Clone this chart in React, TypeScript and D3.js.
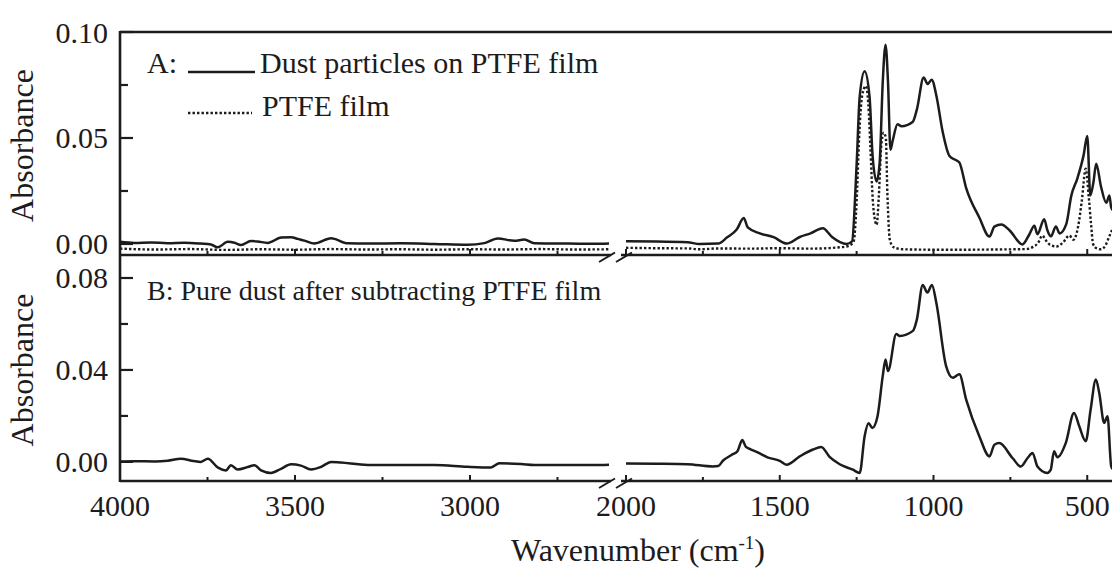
import React from "react";
import * as d3 from "d3";

const W = 1112;
const H = 568;

// Wavenumber ticks (cm-1) on the two sides of the axis break
const majorTicksHigh = [4000, 3500, 3000];
const minorTicksHigh = [3750, 3250, 2750];
const majorTicksLow = [2000, 1500, 1000, 500];
const minorTicksLow = [1750, 1250, 750];

// Absorbance ticks for panel A and panel B
const yMajorA = [0.0, 0.05, 0.1];
const yMinorA = [0.025, 0.075];
const yMajorB = [0.0, 0.04, 0.08];
const yMinorB = [0.02, 0.06];

// A: dust particles collected on the PTFE film  [wavenumber, absorbance]
const dustOnFilm: [number, number][] = [
  [4000, 0.001], [3959, 0.0005], [3911, 0.0007], [3864, 0.0004], [3816, 0.0006], [3769, 0.0002],
  [3740, -0.0002], [3721, -0.0016], [3692, 0.001], [3673, 0.0006], [3654, -0.0005], [3626, 0.0014],
  [3607, 0.0012], [3578, 0.0005], [3540, 0.003], [3511, 0.0032], [3492, 0.0024], [3473, 0.0016],
  [3445, 0.0002], [3397, 0.0027], [3349, 0.0003], [3292, 0.0002], [3197, 0.0003], [3102, 0.0],
  [3007, -0.0004], [2959, 0.0004], [2921, 0.0026], [2873, 0.0015], [2845, 0.0021], [2816, 0.0004],
  [2721, 0.0002], [2626, 0.0001], [2600, 0.0002],
  [2000, 0.0013], [1900, 0.0012], [1800, 0.0008], [1760, 0.0], [1700, 0.0002], [1672, 0.003],
  [1640, 0.0068], [1617, 0.0122], [1604, 0.0078], [1565, 0.005], [1520, 0.0032], [1477, 0.0002],
  [1435, 0.0033], [1400, 0.005], [1360, 0.0074], [1330, 0.0033], [1283, 0.0], [1265, 0.0012],
  [1250, 0.0375], [1240, 0.0695], [1224, 0.0815], [1208, 0.0695], [1198, 0.0415], [1185, 0.0295],
  [1175, 0.0385], [1165, 0.0765], [1156, 0.094], [1148, 0.0765], [1140, 0.0445], [1133, 0.0485],
  [1117, 0.0565], [1104, 0.0555], [1068, 0.0575], [1054, 0.0635], [1032, 0.0785], [1019, 0.0755],
  [1006, 0.0775], [990, 0.0695], [971, 0.0535], [948, 0.0415], [926, 0.0395], [916, 0.0385],
  [894, 0.0265], [851, 0.0125], [818, 0.0035], [802, 0.0082], [779, 0.0092], [753, 0.0065],
  [711, -0.0002], [688, 0.0046], [672, 0.0086], [662, 0.0046], [640, 0.0117], [630, 0.0066],
  [618, 0.0036], [602, 0.0083], [590, 0.005], [568, 0.0095], [552, 0.0227], [532, 0.031],
  [512, 0.0418], [500, 0.0509], [490, 0.0229], [480, 0.029], [471, 0.0378], [455, 0.0269],
  [438, 0.0194], [428, 0.0229], [422, 0.0172], [410, 0.015],
];

// A: blank PTFE film
const ptfeFilm: [number, number][] = [
  [4000, -0.0022], [3900, -0.0026], [3800, -0.0024], [3700, -0.0028], [3600, -0.0025], [3500, -0.0027],
  [3400, -0.0024], [3300, -0.0026], [3200, -0.0025], [3100, -0.0027], [3000, -0.0025], [2900, -0.0026],
  [2800, -0.0024], [2700, -0.0026], [2600, -0.0025],
  [2000, -0.0018], [1900, -0.002], [1800, -0.0021], [1760, -0.0025], [1700, -0.0021], [1600, -0.0022],
  [1500, -0.002], [1400, -0.0022], [1300, -0.0015], [1275, -0.0008], [1260, 0.001], [1250, 0.02],
  [1242, 0.05], [1232, 0.07], [1220, 0.0745], [1212, 0.066], [1205, 0.045], [1198, 0.022],
  [1190, 0.011], [1185, 0.009], [1178, 0.022], [1170, 0.046], [1162, 0.0525], [1155, 0.05],
  [1150, 0.024], [1142, 0.002], [1130, -0.0015], [1100, -0.0025], [1000, -0.0027], [900, -0.0027],
  [800, -0.0026], [700, -0.0024], [678, -0.0015], [660, 0.0005], [646, 0.004], [636, 0.002],
  [620, -0.0005], [600, -0.0012], [580, 0.0005], [558, 0.004], [545, 0.002], [530, 0.008],
  [518, 0.02], [505, 0.0355], [495, 0.022], [488, 0.01], [481, 0.0], [470, -0.002],
  [455, -0.0025], [440, -0.0005], [430, 0.003], [415, 0.008],
];

// B: pure dust after subtracting the PTFE film
const pureDust: [number, number][] = [
  [4000, 0.0002], [3959, 0.0003], [3900, 0.0002], [3864, 0.0005], [3826, 0.0014], [3790, 0.0004],
  [3769, 0.0], [3749, 0.0014], [3720, -0.0025], [3697, -0.0037], [3683, -0.0014], [3664, -0.0033],
  [3635, -0.0022], [3616, -0.0014], [3597, -0.0037], [3569, -0.0048], [3540, -0.003], [3511, -0.001],
  [3483, -0.0016], [3454, -0.0033], [3426, -0.0022], [3397, 0.0], [3369, -0.0003], [3292, -0.0013],
  [3197, -0.0013], [3102, -0.0013], [3007, -0.0021], [2940, -0.0024], [2916, -0.0006], [2854, -0.0009],
  [2816, -0.0013], [2700, -0.0013], [2626, -0.0013], [2600, -0.0012],
  [2000, -0.0007], [1900, -0.0008], [1800, -0.001], [1718, -0.002], [1700, -0.0018], [1685, 0.0005],
  [1657, 0.003], [1637, 0.0048], [1622, 0.0095], [1610, 0.0065], [1600, 0.0058], [1570, 0.004],
  [1540, 0.002], [1500, 0.0005], [1478, -0.0012], [1435, 0.0024], [1392, 0.0054], [1365, 0.0065],
  [1338, 0.0022], [1305, -0.001], [1262, -0.0034], [1240, -0.0048], [1224, 0.0112], [1211, 0.0168],
  [1199, 0.0148], [1182, 0.0199], [1165, 0.0374], [1156, 0.0446], [1148, 0.0395], [1121, 0.0556],
  [1110, 0.0548], [1067, 0.057], [1054, 0.062], [1035, 0.077], [1020, 0.0737], [1005, 0.077],
  [991, 0.0693], [959, 0.0417], [937, 0.0366], [916, 0.0381], [894, 0.0272], [851, 0.0112],
  [818, 0.0024], [802, 0.0075], [786, 0.0082], [743, 0.0017], [716, -0.002], [694, 0.0017],
  [678, 0.0039], [662, -0.002], [630, -0.0048], [619, -0.0035], [608, 0.0046], [597, 0.002],
  [570, 0.0082], [543, 0.0213], [526, 0.0155], [505, 0.009], [489, 0.0228], [472, 0.0359],
  [461, 0.03], [445, 0.017], [434, 0.0199], [422, -0.002], [410, -0.004],
];

const FONT = "'Liberation Serif', 'Times New Roman', Times, serif";
const INK = "#1c1c1c";
const DOTS = "2.4 2.1";

// frame geometry
const LEFT = 120;
const TOP_A = 32;
const MID = 255;
const BOT_B = 481;
const BREAK_L = 611;
const BREAK_R = 621;

// two linear segments of the broken wavenumber axis
const xHigh = d3.scaleLinear().domain([4000, 2600]).range([LEFT, 610]);
const xLow = d3.scaleLinear().domain([2000, 400]).range([626, 1118]);
const yA = d3.scaleLinear().domain([-0.0052, 0.1]).range([MID, TOP_A]);
const yB = d3.scaleLinear().domain([-0.0083, 0.09]).range([BOT_B, MID]);

function segmentPaths(data: [number, number][], y: d3.ScaleLinear<number, number>) {
  const hi = data.filter((d) => d[0] >= 2600);
  const lo = data.filter((d) => d[0] <= 2000);
  const lineHi = d3
    .line<[number, number]>()
    .x((d) => xHigh(d[0]))
    .y((d) => y(d[1]))
    .curve(d3.curveMonotoneX);
  const lineLo = d3
    .line<[number, number]>()
    .x((d) => xLow(d[0]))
    .y((d) => y(d[1]))
    .curve(d3.curveMonotoneX);
  return [lineHi(hi) || "", lineLo(lo) || ""];
}

function BreakMarks({ y }: { y: number }) {
  return (
    <g stroke={INK} strokeWidth={2}>
      <line x1={599} y1={y + 7} x2={615} y2={y - 2.5} />
      <line x1={616} y1={y + 7} x2={632} y2={y - 2.5} />
    </g>
  );
}

function BottomAxis({ y }: { y: number }) {
  return (
    <g>
      <line x1={LEFT} y1={y} x2={BREAK_L} y2={y} stroke={INK} strokeWidth={2.6} />
      <line x1={BREAK_R} y1={y} x2={W} y2={y} stroke={INK} strokeWidth={2.6} />
      {majorTicksHigh.map((t) => (
        <line key={"mh" + t} x1={xHigh(t)} x2={xHigh(t)} y1={y} y2={y - 6} stroke={INK} strokeWidth={2} />
      ))}
      {minorTicksHigh.map((t) => (
        <line key={"nh" + t} x1={xHigh(t)} x2={xHigh(t)} y1={y} y2={y - 4} stroke={INK} strokeWidth={2} />
      ))}
      {majorTicksLow.map((t) => (
        <line key={"ml" + t} x1={xLow(t)} x2={xLow(t)} y1={y} y2={y - 6} stroke={INK} strokeWidth={2} />
      ))}
      {minorTicksLow.map((t) => (
        <line key={"nl" + t} x1={xLow(t)} x2={xLow(t)} y1={y} y2={y - 4} stroke={INK} strokeWidth={2} />
      ))}
      <BreakMarks y={y} />
    </g>
  );
}

function LeftTicks({
  y,
  major,
  minor,
}: {
  y: d3.ScaleLinear<number, number>;
  major: number[];
  minor: number[];
}) {
  const fmt = d3.format(".2f");
  return (
    <g>
      {major.map((t) => (
        <g key={"M" + t}>
          <line x1={LEFT} x2={LEFT + 13} y1={y(t)} y2={y(t)} stroke={INK} strokeWidth={2.2} />
          <text
            x={108}
            y={y(t)}
            textAnchor="end"
            dominantBaseline="central"
            fontSize={30}
            fontFamily={FONT}
            fill={INK}
          >
            {fmt(t)}
          </text>
        </g>
      ))}
      {minor.map((t) => (
        <line key={"m" + t} x1={LEFT} x2={LEFT + 8} y1={y(t)} y2={y(t)} stroke={INK} strokeWidth={2.2} />
      ))}
    </g>
  );
}

export default function App() {
  const [dustHi, dustLo] = segmentPaths(dustOnFilm, yA);
  const [ptfeHi, ptfeLo] = segmentPaths(ptfeFilm, yA);
  const [pureHi, pureLo] = segmentPaths(pureDust, yB);
  const xLabels: [number, d3.ScaleLinear<number, number>][] = [
    ...majorTicksHigh.map((t) => [t, xHigh] as [number, d3.ScaleLinear<number, number>]),
    ...majorTicksLow.map((t) => [t, xLow] as [number, d3.ScaleLinear<number, number>]),
  ];

  return (
    <svg
      width={W}
      height={H}
      viewBox={`0 0 ${W} ${H}`}
      style={{ position: "absolute", left: 0, top: 0, background: "#fff" }}
    >
      <defs>
        <clipPath id="clipAHi">
          <rect x={LEFT} y={TOP_A} width={BREAK_L - LEFT - 2} height={MID - TOP_A} />
        </clipPath>
        <clipPath id="clipALo">
          <rect x={625} y={TOP_A} width={W - 625} height={MID - TOP_A} />
        </clipPath>
        <clipPath id="clipBHi">
          <rect x={LEFT} y={MID} width={BREAK_L - LEFT - 2} height={BOT_B - MID} />
        </clipPath>
        <clipPath id="clipBLo">
          <rect x={625} y={MID} width={W - 625} height={BOT_B - MID} />
        </clipPath>
      </defs>
      <rect x={0} y={0} width={W} height={H} fill="#fff" />

      {/* panel A spectra */}
      <g fill="none" strokeLinejoin="round">
        <path d={ptfeHi} clipPath="url(#clipAHi)" stroke={INK} strokeWidth={2.4} strokeDasharray={DOTS} />
        <path d={ptfeLo} clipPath="url(#clipALo)" stroke={INK} strokeWidth={2.4} strokeDasharray={DOTS} />
        <path d={dustHi} clipPath="url(#clipAHi)" stroke={INK} strokeWidth={2.5} />
        <path d={dustLo} clipPath="url(#clipALo)" stroke={INK} strokeWidth={2.5} />
      </g>

      {/* panel B spectrum */}
      <g fill="none" strokeLinejoin="round">
        <path d={pureHi} clipPath="url(#clipBHi)" stroke={INK} strokeWidth={2.5} />
        <path d={pureLo} clipPath="url(#clipBLo)" stroke={INK} strokeWidth={2.5} />
      </g>

      {/* frame */}
      <line x1={LEFT} y1={TOP_A} x2={W} y2={TOP_A} stroke={INK} strokeWidth={2.6} />
      <line x1={LEFT} y1={TOP_A - 1} x2={LEFT} y2={BOT_B + 1} stroke={INK} strokeWidth={2.6} />
      <BottomAxis y={MID} />
      <BottomAxis y={BOT_B} />

      <LeftTicks y={yA} major={yMajorA} minor={yMinorA} />
      <LeftTicks y={yB} major={yMajorB} minor={yMinorB} />

      {/* x tick labels */}
      {xLabels.map(([t, s]) => (
        <text
          key={"xl" + t}
          x={s(t)}
          y={516}
          textAnchor="middle"
          fontSize={30}
          fontFamily={FONT}
          fill={INK}
        >
          {t}
        </text>
      ))}

      {/* axis titles */}
      <text x={638} y={561} textAnchor="middle" fontSize={32} fontFamily={FONT} fill={INK}>
        Wavenumber (cm
        <tspan dy={-12} fontSize={19}>
          -1
        </tspan>
        <tspan dy={12}>)</tspan>
      </text>
      <text
        transform={`translate(33,${(TOP_A + MID) / 2 + 2}) rotate(-90)`}
        textAnchor="middle"
        fontSize={32}
        fontFamily={FONT}
        fill={INK}
      >
        Absorbance
      </text>
      <text
        transform={`translate(33,${(MID + BOT_B) / 2 + 2}) rotate(-90)`}
        textAnchor="middle"
        fontSize={32}
        fontFamily={FONT}
        fill={INK}
      >
        Absorbance
      </text>

      {/* legend of panel A */}
      <g fontFamily={FONT} fontSize={30} fill={INK}>
        <text x={147} y={73}>A:</text>
        <line x1={188} y1={72} x2={255} y2={72} stroke={INK} strokeWidth={2.4} />
        <text x={260} y={73}>Dust particles on PTFE film</text>
        <line x1={188} y1={113} x2={252} y2={113} stroke={INK} strokeWidth={2.4} strokeDasharray={DOTS} />
        <text x={262} y={116}>PTFE film</text>
      </g>

      {/* caption of panel B */}
      <text x={147} y={300} fontFamily={FONT} fontSize={28} fill={INK}>
        B: Pure dust after subtracting PTFE film
      </text>
    </svg>
  );
}
